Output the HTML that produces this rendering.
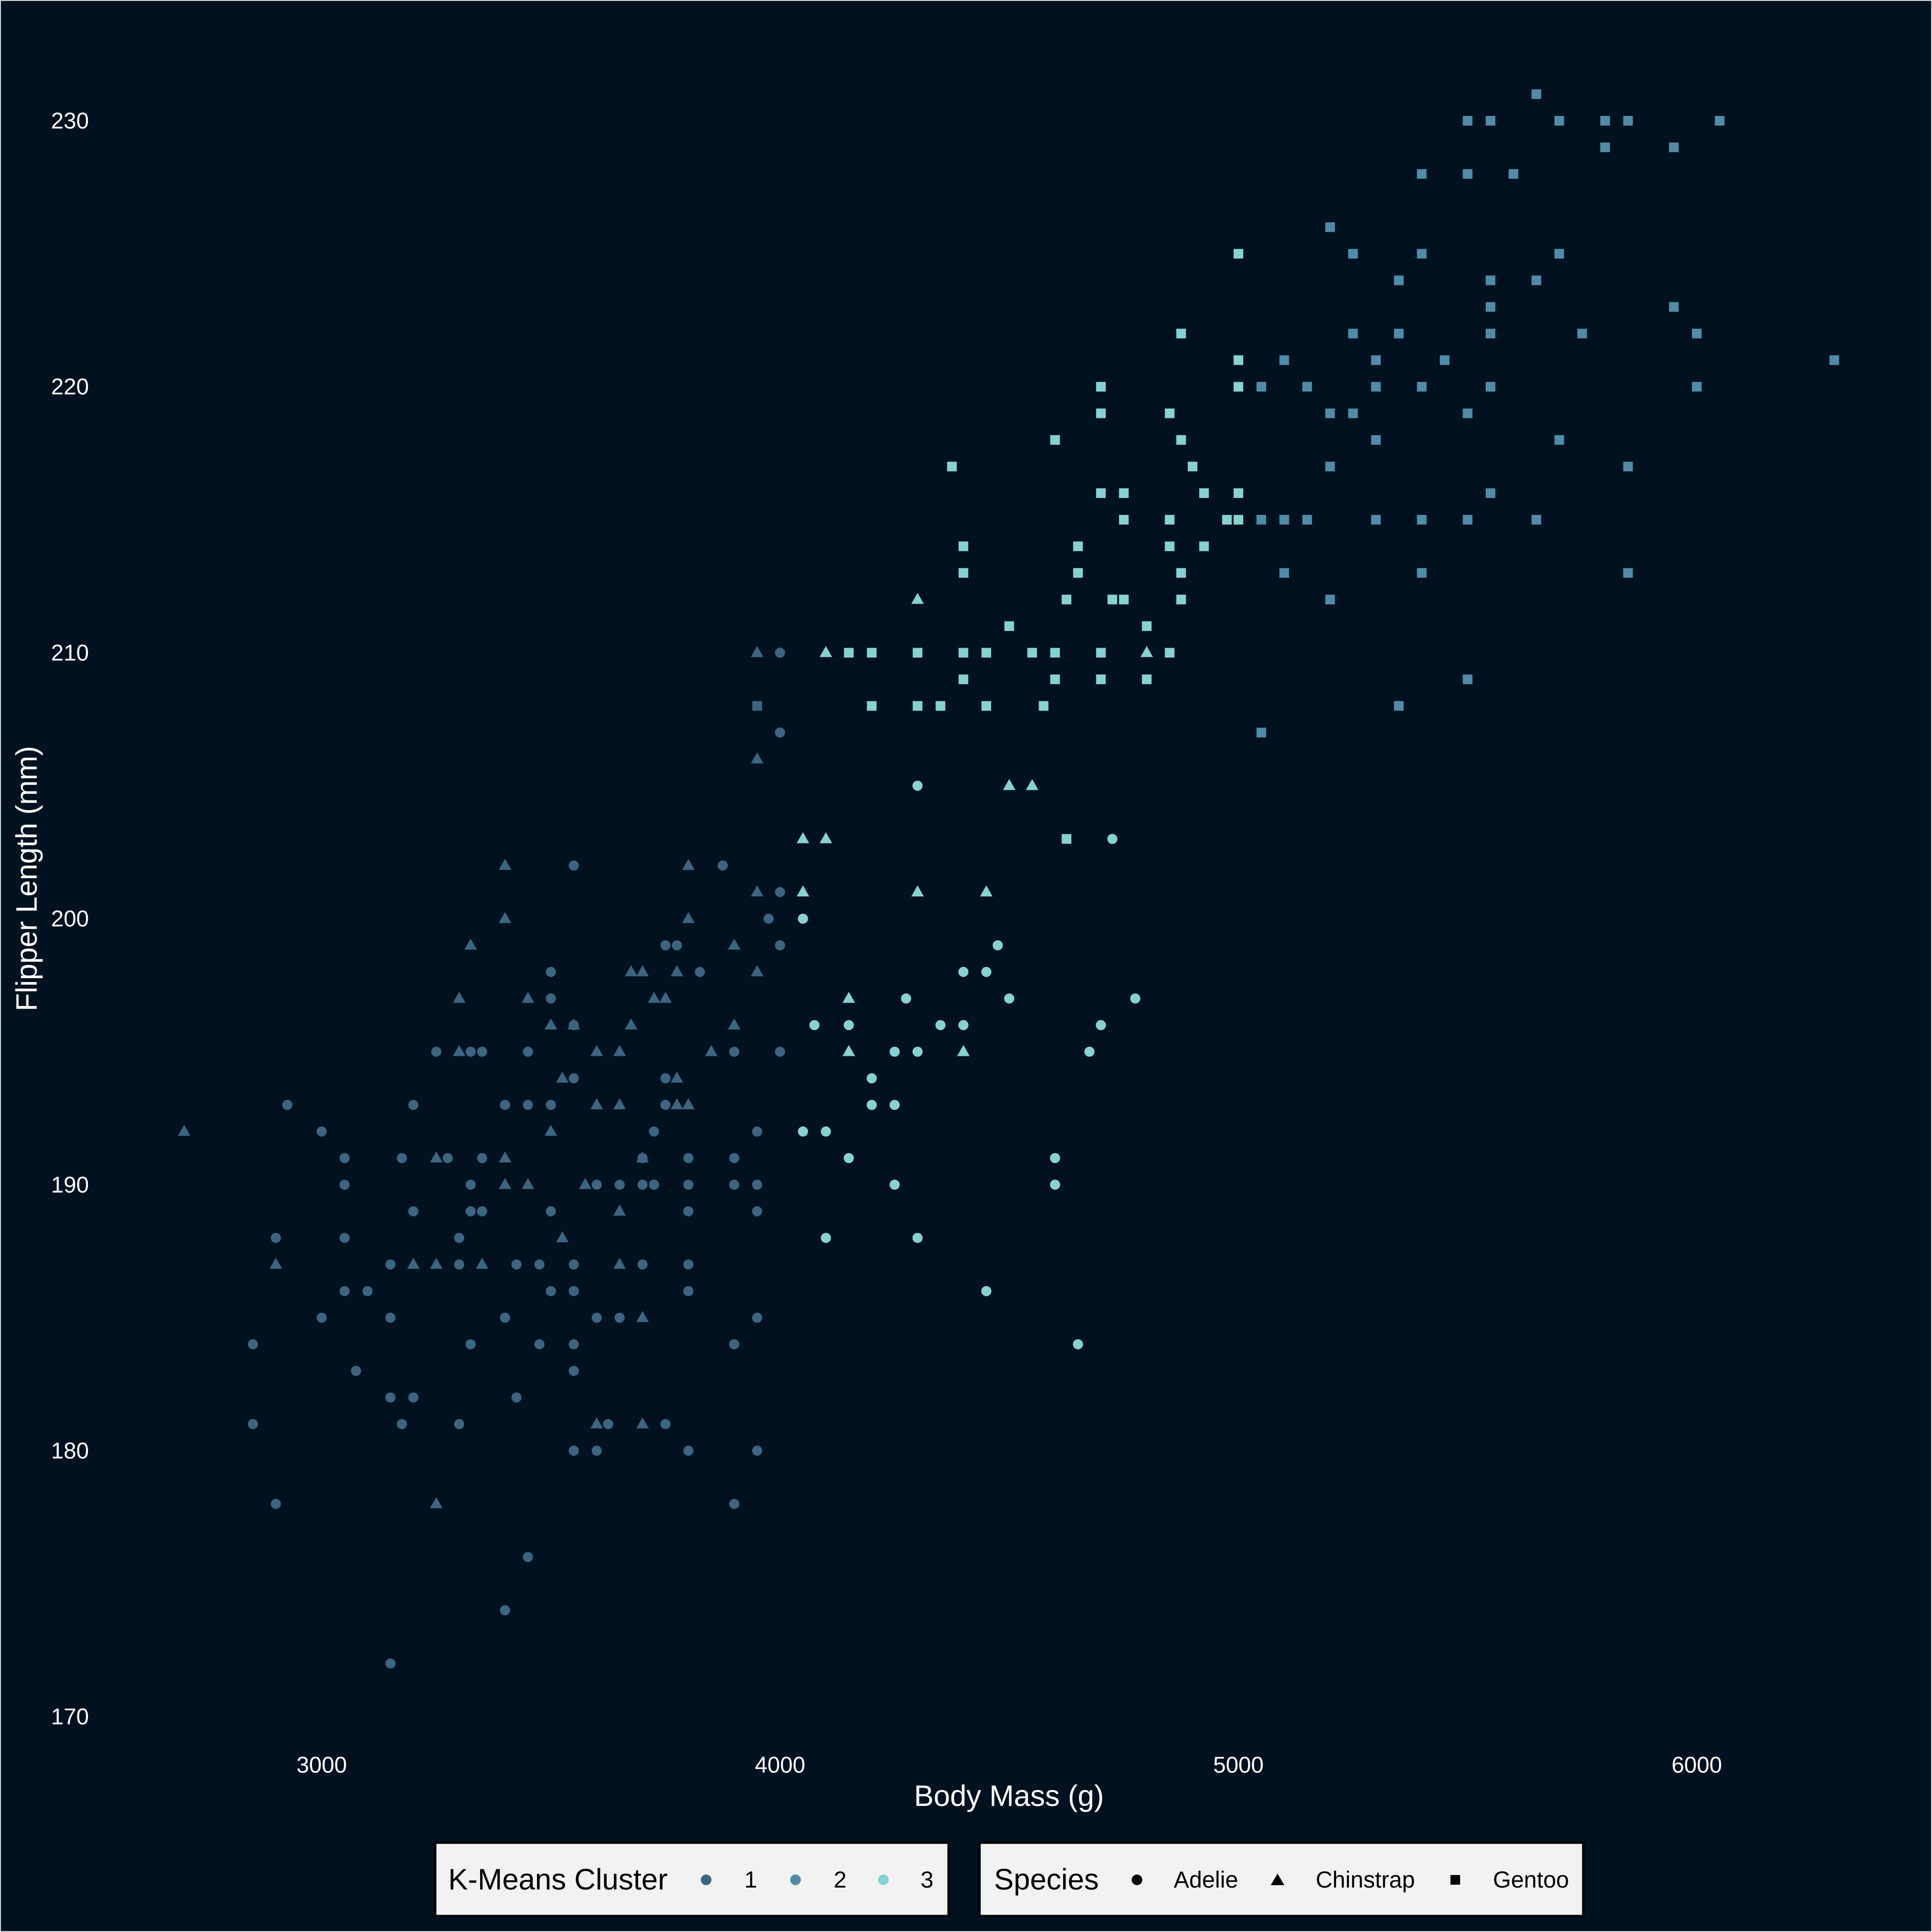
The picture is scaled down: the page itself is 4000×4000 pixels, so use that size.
<!DOCTYPE html>
<html><head><meta charset="utf-8"><style>
html,body{margin:0;padding:0;background:#02111f;}
svg{display:block;}
text{font-family:"Liberation Sans",sans-serif;}
</style></head><body>
<svg id="chart" width="4000" height="4000" viewBox="0 0 4000 4000" xmlns="http://www.w3.org/2000/svg">
<rect x="1" y="1" width="3998" height="3998" fill="#02111f" stroke="#cfd3d6" stroke-width="2"/>
<g id="yticks"></g>
<g id="xticks"></g>
<g id="points"></g>
<text x="2089" y="3739" font-size="61" fill="#ffffff" text-anchor="middle">Body Mass (g)</text>
<text x="0" y="0" font-size="61" fill="#ffffff" text-anchor="middle" transform="translate(76,1819) rotate(-90)">Flipper Length (mm)</text>
<g>
<rect x="901" y="3815" width="1063" height="152" fill="#f2f2f2" stroke="#000" stroke-width="5"/>
<text x="928" y="3912" font-size="61" fill="#000">K-Means Cluster</text>
<circle cx="1462" cy="3892" r="11" fill="#3b6580"/>
<text x="1541" y="3908" font-size="48" fill="#000">1</text>
<circle cx="1647" cy="3892" r="11" fill="#4f8ca8"/>
<text x="1726" y="3908" font-size="48" fill="#000">2</text>
<circle cx="1829" cy="3892" r="11" fill="#86d2d2"/>
<text x="1906" y="3908" font-size="48" fill="#000">3</text>
</g>
<g>
<rect x="2028" y="3815" width="1250" height="152" fill="#f2f2f2" stroke="#000" stroke-width="5"/>
<text x="2058" y="3912" font-size="61" fill="#000">Species</text>
<circle cx="2354" cy="3892" r="11" fill="#000"/>
<text x="2430" y="3908" font-size="48" fill="#000">Adelie</text>
<polygon points="2645,3879 2659,3903 2631,3903" fill="#000"/>
<text x="2724" y="3908" font-size="48" fill="#000">Chinstrap</text>
<rect x="3003" y="3882" width="20" height="20" fill="#000"/>
<text x="3091" y="3908" font-size="48" fill="#000">Gentoo</text>
</g>
</svg>
<script>
const xTicks=[3000,4000,5000,6000];
const yTicks=[170,180,190,200,210,220,230];
// Gentoo cluster 2
const g2Mass=[5650,5500,5550,5700,5800,5850,6050,5800,5950,5400,5500,5600,5200,5250,5400,5700,5350,5550,5650,5550,5950,5250,5350,5550,5750,6000,5100,5300,5450,6300,5050,5150,5300,5400,5550,6000,5200,5250,5500,5200,5850,5300,5700,5550,5050,5100,5150,5300,5400,5500,5650,5100,5400,5850,5200,5500,5350,5050];
const g2Flip=[231,230,230,230,230,230,230,229,229,228,228,228,226,225,225,225,224,224,224,223,223,222,222,222,222,222,221,221,221,221,220,220,220,220,220,220,219,219,219,217,217,218,218,216,215,215,215,215,215,215,215,213,213,213,212,209,208,207];
// Gentoo cluster 3
const g3Mass=[5000,4875,5000,4700,5000,4700,4850,4600,4875,4375,4900,4700,4750,4925,5000,4750,4850,4975,5000,4400,4650,4850,4925,4400,4650,4875,4625,4725,4750,4875,4500,4800,4150,4200,4300,4400,4450,4550,4600,4700,4850,4400,4600,4700,4800,4200,4300,4350,4450,4575,4625];
const g3Flip=[225,222,221,220,220,219,219,218,218,217,217,216,216,216,216,215,215,215,215,214,214,214,214,213,213,213,212,212,212,212,211,211,210,210,210,210,210,210,210,210,210,209,209,209,209,208,208,208,208,208,203];
// Gentoo cluster 1
const g1Mass=[3950];
const g1Flip=[208];
// Chinstrap cluster 3
const c3Mass=[4300,4100,4800,4500,4550,4050,4100,4050,4300,4450,4150,4150,4400];
const c3Flip=[212,210,210,205,205,203,203,201,201,201,197,195,195];
// Adelie cluster 3
const a3Mass=[4300,4725,4050,4475,4400,4450,4275,4500,4775,4075,4150,4350,4400,4700,4250,4300,4675,4200,4200,4250,4050,4100,4150,4600,4250,4600,4100,4300,4450,4650];
const a3Flip=[205,203,200,199,198,198,197,197,197,196,196,196,196,196,195,195,195,194,193,193,192,192,191,191,190,190,188,188,186,184];
// Chinstrap cluster 1
const c1Mass=[3950,3950,3400,3800,3400,3800,3950,3325,3900,3950,3675,3700,3775,3300,3450,3725,3750,3500,3550,3675,3900,3300,3600,3650,3850,3525,3775,3600,3650,3775,3800,3500,3250,3400,3700,3400,3450,3575,3650,3525,2900,3200,3250,3350,3650,3700,3600,3700,3250,2700];
const c1Flip=[210,206,202,202,200,200,201,199,199,198,198,198,198,197,197,197,197,196,196,196,196,195,195,195,195,194,194,193,193,193,193,192,191,191,191,190,190,190,189,188,187,187,187,187,187,185,181,181,178,192];
// Adelie cluster 1
const a1Mass=[4000,4000,3550,3875,3975,4000,3750,3775,4000,3500,3825,3500,3550,3250,3325,3350,3450,3900,4000,3550,3750,2925,3200,3400,3450,3500,3750,3000,3725,3950,3050,3175,3275,3350,3700,3800,3900,3050,3325,3600,3650,3700,3725,3800,3900,3950,3200,3325,3350,3500,3800,3950,2900,3050,3300,3150,3300,3425,3475,3550,3700,3800,3050,3100,3500,3550,3800,3000,3150,3400,3600,3650,3950,2850,3325,3475,3550,3900,3075,3550,3150,3200,3425,2850,3175,3300,3625,3750,3550,3600,3800,3950,2900,3900,3450,3400,3150];
const a1Flip=[210,207,202,202,200,201,199,199,199,198,198,197,196,195,195,195,195,195,195,194,194,193,193,193,193,193,193,192,192,192,191,191,191,191,191,191,191,190,190,190,190,190,190,190,190,190,189,189,189,189,189,189,188,188,188,187,187,187,187,187,187,187,186,186,186,186,186,185,185,185,185,185,185,184,184,184,184,184,183,183,182,182,182,181,181,181,181,181,180,180,180,180,178,178,176,174,172];

const X0=666, XS=0.949, Y0=250, YS=55.07;
function sx(m){return X0+(m-3000)*XS;}
function sy(f){return Y0+(230-f)*YS;}
const NS='http://www.w3.org/2000/svg';
const colors={1:'#3b6580',2:'#4f8ca8',3:'#86d2d2'};
const yt=document.getElementById('yticks');
yTicks.forEach(v=>{const t=document.createElementNS(NS,'text');


t.setAttribute('x',184);t.setAttribute('y',sy(v)+16);t.setAttribute('font-size','47');t.setAttribute('fill','#ffffff');t.setAttribute('text-anchor','end');t.textContent=v;yt.appendChild(t);});
const xt=document.getElementById('xticks');
xTicks.forEach(v=>{const t=document.createElementNS(NS,'text');


t.setAttribute('x',sx(v));t.setAttribute('y',3670);t.setAttribute('font-size','47');t.setAttribute('fill','#ffffff');t.setAttribute('text-anchor','middle');t.textContent=v;xt.appendChild(t);});
const pg=document.getElementById('points');
function draw(ms,fs,sp,cl){
 for(let i=0;i<ms.length;i++){
  const x=sx(ms[i]),y=sy(fs[i]);let el;
  if(sp==='Adelie'){el=document.createElementNS(NS,'circle');el.setAttribute('cx',x);el.setAttribute('cy',y);el.setAttribute('r',10.5);}
  else if(sp==='Chinstrap'){el=document.createElementNS(NS,'polygon');el.setAttribute('points',`${x},${y-14} ${x+13},${y+9} ${x-13},${y+9}`);}
  else {el=document.createElementNS(NS,'rect');el.setAttribute('x',x-10);el.setAttribute('y',y-10);el.setAttribute('width',20);el.setAttribute('height',20);}
  el.setAttribute('fill',colors[cl]);
  
  
  pg.appendChild(el);
 }
}
draw(a1Mass,a1Flip,'Adelie',1);
draw(c1Mass,c1Flip,'Chinstrap',1);
draw(g1Mass,g1Flip,'Gentoo',1);
draw(a3Mass,a3Flip,'Adelie',3);
draw(c3Mass,c3Flip,'Chinstrap',3);
draw(g3Mass,g3Flip,'Gentoo',3);
draw(g2Mass,g2Flip,'Gentoo',2);
</script>
</body></html>
